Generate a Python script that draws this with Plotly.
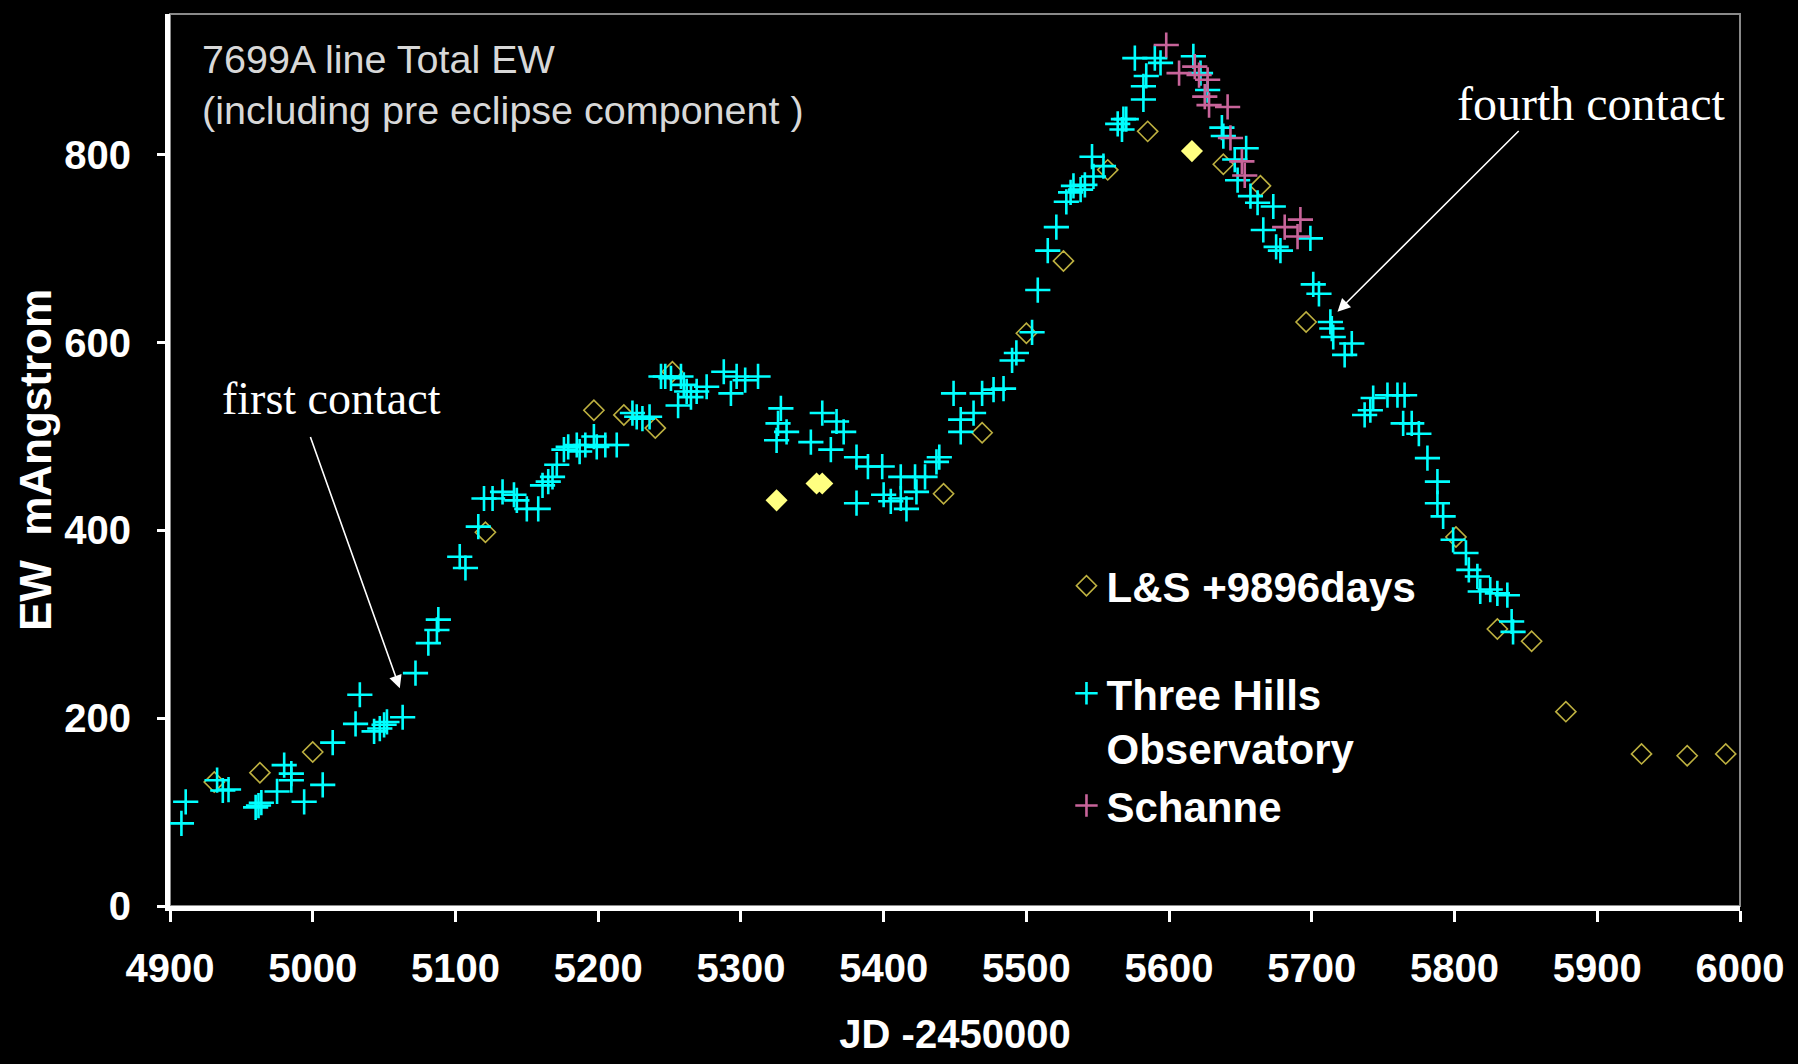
import plotly.graph_objects as go

# ---------------- data ----------------
th_x = [4908, 4911, 4933, 4937, 4941, 4960, 4962, 4964, 4975, 4980, 4985, 4985, 4994, 5007, 5014,
        5033, 5030, 5043, 5047, 5050, 5052, 5063, 5072, 5081, 5087, 5088,
        5103, 5107, 5116, 5120, 5126, 5133, 5141, 5143, 5150, 5158, 5161, 5165, 5168, 5171, 5176,
        5179, 5185, 5187, 5191, 5197, 5199, 5205, 5213, 5224, 5227, 5231, 5236, 5244, 5247, 5251,
        5258, 5260, 5262, 5256, 5265, 5269, 5276, 5288, 5293, 5297, 5303, 5312, 5328, 5326, 5325,
        5332, 5349, 5357, 5367, 5372, 5363, 5381, 5381, 5389, 5399, 5400, 5405, 5412, 5412, 5416,
        5422, 5423, 5429, 5437, 5439, 5449, 5454, 5463, 5454, 5469, 5477, 5484, 5490, 5493, 5504,
        5508, 5515, 5521, 5528, 5531, 5533, 5538, 5541, 5546, 5547, 5554, 5564, 5567, 5568, 5570,
        5576, 5582, 5582, 5584, 5590, 5594, 5617, 5622, 5627, 5637, 5638, 5646, 5648, 5654, 5657,
        5662, 5666, 5673, 5675, 5678, 5699, 5701, 5705, 5713, 5714, 5715, 5723, 5728, 5737, 5741,
        5743, 5753, 5760, 5765, 5764, 5770, 5775, 5781, 5788, 5788, 5792, 5799, 5808, 5810, 5816,
        5818, 5825, 5830, 5837, 5840, 5841]
th_y = [88, 111, 134, 123, 124, 105, 107, 110, 122, 150, 141, 134, 111, 129, 174,
        225, 194, 186, 189, 193, 196, 201, 248, 280, 294, 305,
        372, 360, 404, 434, 434, 441, 438, 432, 423, 423, 448, 452, 457, 470, 486,
        489, 491, 484, 491, 500, 489, 491, 491, 525, 521, 519, 521, 564, 564, 562,
        564, 555, 548, 533, 542, 548, 553, 569, 546, 564, 560, 564, 530, 514, 496,
        505, 494, 525, 516, 505, 486, 478, 429, 468, 468, 438, 431, 457, 434, 423,
        457, 441, 457, 473, 478, 546, 518, 525, 505, 546, 550, 551, 581, 589, 611,
        656, 698, 723, 750, 760, 767, 763, 768, 798, 777, 788, 833, 827, 838, 838,
        903, 859, 873, 884, 903, 898, 905, 887, 869, 829, 820, 795, 773, 807, 756,
        749, 720, 745, 702, 698, 711, 662, 652, 622, 615, 606, 587, 599, 523, 528,
        541, 544, 544, 544, 514, 514, 503, 477, 452, 429, 415, 390, 376, 358, 351,
        335, 337, 333, 331, 303, 292]

sch_x = [5598, 5607, 5618, 5621, 5627, 5625, 5628, 5641, 5643, 5651, 5653, 5681, 5692, 5690]
sch_y = [917, 887, 894, 885, 880, 862, 853, 851, 818, 793, 778, 723, 731, 713]

ls_x = [4931, 4963, 5000, 5121, 5197, 5218, 5240, 5252, 5442, 5469, 5500, 5526, 5557, 5585,
        5638, 5664, 5696, 5801, 5830, 5854, 5878, 5931, 5963, 5990]
ls_y = [132, 142, 164, 398, 528, 523, 509, 569, 439, 504, 610, 687, 784, 825,
        790, 767, 622, 393, 295, 282, 207, 162, 160, 162]

lsf_x = [5325, 5353, 5357, 5616]
lsf_y = [432, 450, 450, 804]

x_ticks = [4900, 5000, 5100, 5200, 5300, 5400, 5500, 5600, 5700, 5800, 5900, 6000]
y_ticks = [0, 200, 400, 600, 800]

first_contact = (5061, 232)
first_contact_tail = (4998, 501)
fourth_contact = (5718, 633)
fourth_contact_tail = (5846, 827)

# ---------------- figure ----------------
SANS = "Liberation Sans"
fig = go.Figure()

fig.add_trace(go.Scatter(
    x=lsf_x, y=lsf_y, mode="markers", name="L&S highlighted", showlegend=False,
    legendgroup="a",
    marker=dict(symbol="diamond", size=17, color="#FFFF80", line=dict(width=0))))

fig.add_trace(go.Scatter(
    x=ls_x, y=ls_y, mode="markers", name="L&S +9896days", legendgroup="a",
    marker=dict(symbol="diamond-open", size=15.5, color="#BDB040",
                line=dict(width=1.6, color="#BDB040"))))

fig.add_trace(go.Scatter(
    x=th_x, y=th_y, mode="markers", name="Three Hills<br>Observatory", legendgroup="b",
    marker=dict(symbol="cross-thin-open", size=18, color="#00FFFF",
                line=dict(width=2.6, color="#00FFFF"))))

fig.add_trace(go.Scatter(
    x=sch_x, y=sch_y, mode="markers", name="Schanne", legendgroup="b",
    marker=dict(symbol="cross-thin-open", size=18, color="#C8649A",
                line=dict(width=2.6, color="#C8649A"))))

# plot frame (grey top/right)
fig.add_shape(type="rect", xref="paper", yref="paper", x0=0, x1=1, y0=0, y1=1,
              line=dict(color="#8a8a8a", width=2), layer="below")

# title-like annotation inside plot
fig.add_annotation(xref="paper", yref="paper", x=0.019, y=0.977, xanchor="left", yanchor="top",
                   align="left", showarrow=False,
                   text="7699A line Total EW<br>(including pre eclipse component )",
                   font=dict(family=SANS, size=39.5, color="#d8d8d8"))

# arrows
fig.add_annotation(x=first_contact[0], y=first_contact[1], xref="x", yref="y",
                   ax=first_contact_tail[0], ay=first_contact_tail[1], axref="x", ayref="y",
                   text="", showarrow=True, arrowhead=2, arrowsize=1.6, arrowwidth=1.6,
                   arrowcolor="white")
fig.add_annotation(x=5013, y=540, xref="x", yref="y", text="first contact", showarrow=False,
                   font=dict(family="Liberation Serif", size=46, color="white"))

fig.add_annotation(x=fourth_contact[0], y=fourth_contact[1], xref="x", yref="y",
                   ax=fourth_contact_tail[0], ay=fourth_contact_tail[1], axref="x", ayref="y",
                   text="", showarrow=True, arrowhead=2, arrowsize=1.6, arrowwidth=1.6,
                   arrowcolor="white")
fig.add_annotation(x=5896, y=855, xref="x", yref="y", text="fourth contact", showarrow=False,
                   font=dict(family="Liberation Serif", size=48, color="white"))

fig.update_layout(
    width=1798, height=1064,
    paper_bgcolor="black", plot_bgcolor="black",
    margin=dict(l=170, r=58, t=14, b=158),
    font=dict(family=SANS, color="white"),
    showlegend=True,
    legend=dict(x=0.571, y=0.397, xanchor="left", yanchor="top",
                bgcolor="rgba(0,0,0,0)", valign="top", tracegroupgap=50,
                font=dict(family=SANS, size=42, color="white", weight="bold"),
                itemsizing="trace"),
    xaxis=dict(range=[4900, 6000], tickvals=x_ticks, ticktext=[str(v) for v in x_ticks],
               showgrid=False, zeroline=False, showline=True, linecolor="white", linewidth=5,
               ticks="outside", ticklen=11, tickwidth=3, tickcolor="white",
               ticklabelstandoff=12,
               tickfont=dict(family=SANS, size=40, color="white", weight="bold"),
               title=dict(text="JD -2450000", standoff=32,
                          font=dict(family=SANS, size=40, color="white", weight="bold"))),
    yaxis=dict(range=[0, 950], tickvals=y_ticks, ticktext=[str(v) for v in y_ticks],
               showgrid=False, zeroline=False, showline=True, linecolor="white", linewidth=5,
               ticks="outside", ticklen=8, tickwidth=3, tickcolor="white",
               ticklabelstandoff=18,
               tickfont=dict(family=SANS, size=40, color="white", weight="bold"),
               title=dict(text="EW  mAngstrom", standoff=0,
                          font=dict(family=SANS, size=44, color="white", weight="bold"))),
)

fig.write_html("out.html")
